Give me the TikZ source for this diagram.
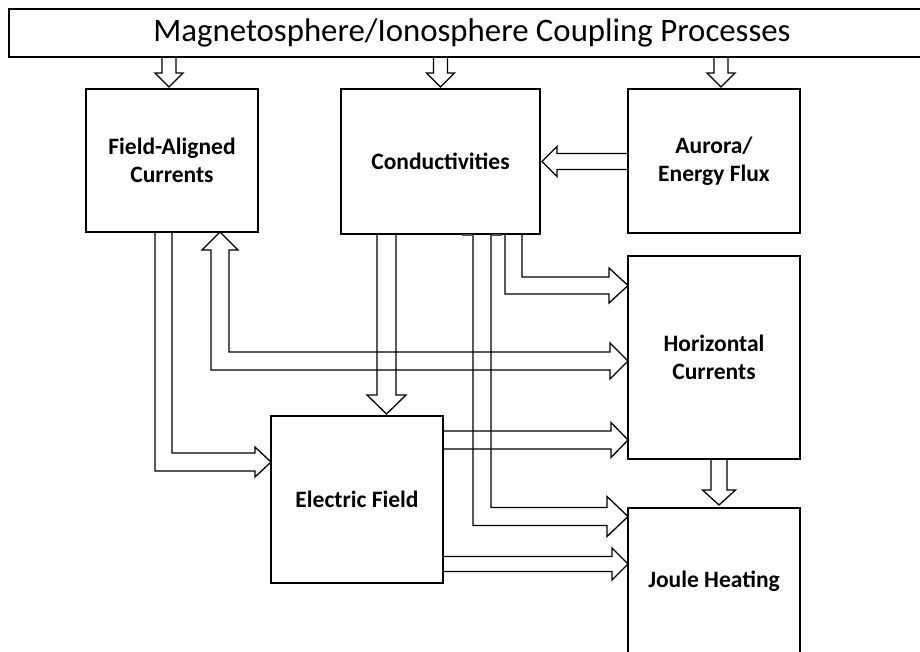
\documentclass[tikz,border=0pt]{standalone}
\usepackage{fontspec}
\setmainfont{Carlito}
\usetikzlibrary{calc}

\begin{document}
\begin{tikzpicture}[x=1pt,y=-1pt,
    box/.style={draw,line width=1.3pt,outer sep=0pt,inner sep=0pt,align=center,
        font=\fontsize{23.5}{28}\selectfont\bfseries},
    blk/.style={line width=1.3pt,line join=miter}]
    \useasboundingbox (0,0) rectangle (920,651);

    \node[draw,line width=1.8pt,outer sep=0pt,minimum width=926pt,minimum height=48pt,
        font=\fontsize{32.8}{39}\selectfont] (title) at (472,33)
        {Magnetosphere/Ionosphere Coupling Processes};

    \node[box,minimum width=172pt,minimum height=143pt] (fac) at (172,160.5) {Field-Aligned\\Currents};
    \node[box,minimum width=199pt,minimum height=145pt] (cond) at (440.5,161.5) {Conductivities};
    \node[box,minimum width=172pt,minimum height=144pt] (aurora) at (714,161) {Aurora/\\Energy Flux};
    \node[box,minimum width=172pt,minimum height=203pt] (hcur) at (714,357.5) {Horizontal\\Currents};
    \node[box,minimum width=172pt,minimum height=167pt] (ef) at (357,499.5) {Electric Field};
    \node[box,minimum width=172pt,minimum height=146pt] (joule) at (714,581) {Joule Heating};

    % small arrows below the title bar
    \foreach \n/\dx in {fac/-3,cond/0,aurora/7}{
        \draw[blk] ($(\n.north |- title.south)+(\dx-7,0)$) -- ++(0,16) -- ++(-7,0)
            -- ($(\n.north)+(\dx,-2)$) -- ++(14,-14) -- ++(-7,0) -- ++(0,-16);
    }

    \coordinate (t4) at ($(cond.east)+(2,0)$);
    \coordinate (t5) at ($(ef.west)+(0,-37.5)$);
    \coordinate (t6a) at ($(fac.south)+(48,0)$);
    \coordinate (t6b) at ($(hcur.west)+(0,3.5)$);
    \coordinate (t7) at ($(ef.north)+(29.5,-2)$);
    \coordinate (t8) at ($(joule.west)+(0,-64.5)$);
    \coordinate (t9) at ($(hcur.west)+(0,-72)$);
    \coordinate (t10) at ($(hcur.west)+(0,82.5)$);
    \coordinate (t11) at ($(joule.west)+(0,-17)$);
    \coordinate (t12) at ($(joule.north)+(5,-3)$);

    % aurora -> conductivities
    \draw[blk] ($(t4 -| aurora.west)+(0,-8)$) -- ($(t4)+(15,-8)$) -- ++(0,-7) -- (t4)
        -- ++(15,15) -- ++(0,-7) -- ($(t4 -| aurora.west)+(0,8)$);

    % field-aligned currents -> electric field
    \draw[blk] ($(fac.south)+(-17,0)$) |- ($(t5)+(-16,9)$) -- ++(0,6) -- (t5)
        -- ++(-16,-15) -- ++(0,6) -| (fac.south);

    % field-aligned currents <-> horizontal currents
    \draw[blk] (t6a) -- ++(18,18) -- ++(-9,0) |- ($(t6b)+(-18,-9)$) -- ++(0,-9) -- (t6b)
        -- ++(-18,18) -- ++(0,-9) -| ($(t6a)+(-9,18)$) -- ++(-9,0) -- cycle;

    % conductivities -> electric field, joule heating, horizontal currents
    \draw[blk] ($(t7 |- cond.south)+(-9.5,0)$) -- ($(t7)+(-9.5,-19)$) -- ++(-10,0) -- (t7)
        -- ++(19.5,-19) -- ++(-10,0) -- ($(t7 |- cond.south)+(9.5,0)$);
    \draw[blk] ($(cond.south)+(32.5,0)$) |- ($(t8)+(-21,9)$) -- ++(0,11) -- (t8)
        -- ++(-21,-20) -- ++(0,11) -| ($(cond.south)+(50.5,0)$);
    \draw[blk] ($(cond.south)+(64.5,0)$) |- ($(t9)+(-19,8.5)$) -- ++(0,9) -- (t9)
        -- ++(-19,-17.5) -- ++(0,9) -| ($(cond.south)+(81.5,0)$);
    \draw[line width=2pt,black!70] ($(cond.south)+(21.5,1)$) -- ++(10,0)
        ($(cond.south)+(51.5,1)$) -- ++(10,0);

    % electric field -> horizontal currents, joule heating
    \draw[blk] ($(t10 -| ef.east)+(0,-9)$) -- ($(t10)+(-17,-9)$) -- ++(0,-8.5) -- (t10)
        -- ++(-17,17.5) -- ++(0,-8.5) -- ($(t10 -| ef.east)+(0,9)$);
    \draw[blk] ($(t11 -| ef.east)+(0,-7.5)$) -- ($(t11)+(-16,-7.5)$) -- ++(0,-8.5) -- (t11)
        -- ++(-16,16) -- ++(0,-8.5) -- ($(t11 -| ef.east)+(0,7.5)$);

    % horizontal currents -> joule heating
    \draw[blk] ($(t12 |- hcur.south)+(-8,0)$) -- ($(t12)+(-8,-15)$) -- ++(-8.5,0) -- (t12)
        -- ++(16.5,-15) -- ++(-8.5,0) -- ($(t12 |- hcur.south)+(8,0)$);
\end{tikzpicture}
\end{document}
